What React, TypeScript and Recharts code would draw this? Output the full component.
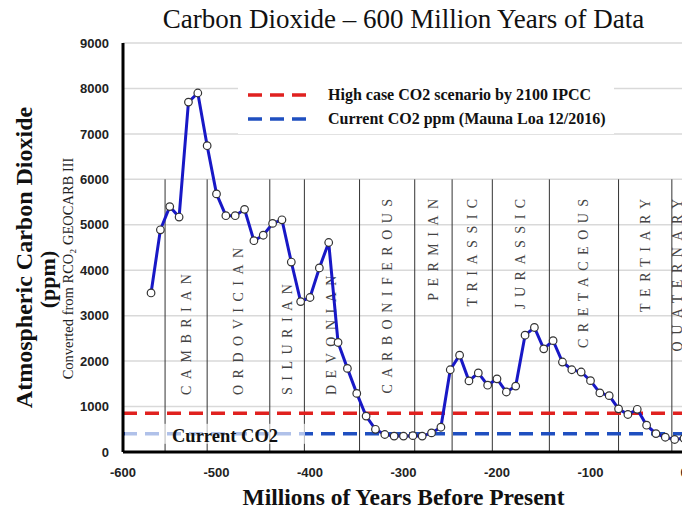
import React from 'react';
import {
  LineChart,
  Line,
  XAxis,
  YAxis,
  CartesianGrid,
  ReferenceLine,
  ReferenceArea,
  Legend,
  Label
} from 'recharts';

// GEOCARB III derived CO2 (ppm), every 10 Myr
const years = [
  -570, -560, -550, -540, -530, -520, -510, -500, -490, -480,
  -470, -460, -450, -440, -430, -420, -410, -400, -390, -380,
  -370, -360, -350, -340, -330, -320, -310, -300, -290, -280,
  -270, -260, -250, -240, -230, -220, -210, -200, -190, -180,
  -170, -160, -150, -140, -130, -120, -110, -100, -90, -80,
  -70, -60, -50, -40, -30, -20, -10, 0
];
const co2 = [
  3500, 4890, 5400, 5170, 7700, 7900, 6740, 5680, 5200, 5200,
  5340, 4650, 4770, 5030, 5110, 4180, 3310, 3400, 4050, 4610,
  2410, 1840, 1290, 790, 500, 385, 350, 350, 360, 350,
  420, 545, 1810, 2130, 1565, 1740, 1470, 1610, 1320, 1450,
  2570, 2740, 2270, 2450, 1980, 1810, 1760, 1570, 1300, 1240,
  950, 825, 940, 590, 405, 325, 275, 300
];

const periodNames = [
  'CAMBRIAN', 'ORDOVICIAN', 'SILURIAN', 'DEVONIAN', 'CARBONIFEROUS',
  'PERMIAN', 'TRIASSIC', 'JURASSIC', 'CRETACEOUS', 'TERTIARY', 'QUATERNARY'
];
const periodStarts = [-555, -510, -443, -406, -347, -288, -248, -205, -144, -70, -13];
const periodEnd = 0;
const periodTop = 6000;
const periodLabelAnchor = ['bottom', 'bottom', 'bottom', 'bottom', 'top', 'top', 'top', 'top', 'top', 'top', 'top'];

const highCaseCO2 = 850;
const currentCO2 = 400;

const xTicks = [-600, -500, -400, -300, -200, -100, 0];
const yTicks = [0, 1000, 2000, 3000, 4000, 5000, 6000, 7000, 8000, 9000];

const legendItems = [
  { label: 'High case CO2 scenario by 2100 IPCC', color: '#e0211f' },
  { label: 'Current CO2 ppm (Mauna Loa 12/2016)', color: '#1f4fc0' }
];

const chartData = years.map((year, i) => ({ year, co2: co2[i] }));

const SERIF = '"Liberation Serif", "DejaVu Serif", serif';
const SANS = '"Liberation Sans", Arial, sans-serif';

const LegendBox = () => (
  <div style={{ background: '#fff', padding: '5px 8px 3px', fontFamily: SERIF, fontWeight: 'bold', fontSize: 16, color: '#111' }}>
    {legendItems.map(item => (
      <div key={item.label} style={{ display: 'flex', alignItems: 'center', height: 24 }}>
        <svg width={58} height={6} style={{ marginLeft: 2 }}>
          <line x1={0} y1={3} x2={58} y2={3} stroke={item.color} strokeWidth={3.5} strokeDasharray="14 8" />
        </svg>
        <span style={{ marginLeft: 22, whiteSpace: 'nowrap' }}>{item.label}</span>
      </div>
    ))}
  </div>
);

const YTitle = (props: any) => {
  const { viewBox } = props;
  if (!viewBox) return null;
  const cy = viewBox.y + viewBox.height / 2;
  return (
    <g>
      <text x={24} y={cy + 10} transform={`rotate(-90 24 ${cy + 10})`} textAnchor="middle" dominantBaseline="central"
        fontFamily={SERIF} fontWeight="bold" fontSize={24} fill="#111">Atmospheric Carbon Dioxide</text>
      <text x={47} y={cy + 32} transform={`rotate(-90 47 ${cy + 32})`} textAnchor="middle" dominantBaseline="central"
        fontFamily={SERIF} fontWeight="bold" fontSize={22} fill="#111">(ppm)</text>
      <text x={68} y={cy + 21} transform={`rotate(-90 68 ${cy + 21})`} textAnchor="middle" dominantBaseline="central"
        fontFamily={SERIF} fontSize={14.5} fill="#222">Converted from RCO₂ GEOCARB III</text>
    </g>
  );
};

const XTitle = (props: any) => {
  const { viewBox } = props;
  if (!viewBox) return null;
  return (
    <text x={viewBox.x + viewBox.width / 2} y={viewBox.y + 53} textAnchor="middle"
      fontFamily={SERIF} fontWeight="bold" fontSize={23.5} fill="#111">Millions of Years Before Present</text>
  );
};

const CurrentLabel = (props: any) => {
  const { viewBox } = props;
  if (!viewBox) return null;
  return (
    <g>
      <rect x={viewBox.x + 2} y={viewBox.y - 10} width={180} height={20} fill="#fff" fillOpacity={0.65} />
      <text x={viewBox.x + 49} y={viewBox.y + 8} fontFamily={SERIF} fontWeight="bold" fontSize={18.5} fill="#111">Current CO2</text>
    </g>
  );
};

const periodLabel = (name: string, anchor: string) => (props: any) => {
  const { viewBox } = props;
  if (!viewBox) return null;
  const cx = viewBox.x + viewBox.width / 2;
  const y = anchor === 'top' ? viewBox.y + 13 : viewBox.y + viewBox.height - 57;
  return (
    <text x={cx} y={y} transform={`rotate(-90 ${cx} ${y})`} textAnchor={anchor === 'top' ? 'end' : 'start'}
      dominantBaseline="central" fontFamily={SERIF} fontSize={14} letterSpacing={6.5} fill="#444">{name}</text>
  );
};

export default function App() {
  return (
    <div style={{ position: 'absolute', left: 0, top: 0, width: 682, height: 511, overflow: 'hidden', background: '#fff' }}>
      <div style={{ position: 'absolute', left: 123, top: 4, width: 561, textAlign: 'center', fontFamily: SERIF, fontSize: 27, color: '#111', whiteSpace: 'nowrap' }}>
        Carbon Dioxide – 600 Million Years of Data
      </div>
      <LineChart width={700} height={511} data={chartData} margin={{ top: 43, right: 16, left: 73, bottom: 28 }}>
        <CartesianGrid horizontal vertical={false} stroke="#d9d9d9" strokeWidth={1.5} />
        <XAxis
          dataKey="year"
          type="number"
          domain={[-600, 0]}
          ticks={xTicks}
          tickLine={false}
          tickSize={0}
          tickMargin={16}
          height={31}
          axisLine={{ stroke: '#000', strokeWidth: 3 }}
          tick={{ fill: '#222', fontSize: 13, fontWeight: 'bold', fontFamily: SANS }}
          interval={0}
        >
          <Label content={XTitle} />
        </XAxis>
        <XAxis xAxisId="top" orientation="top" type="number" domain={[-600, 0]} height={0} tick={false} tickLine={false}
          axisLine={{ stroke: '#000', strokeWidth: 3 }} />
        <YAxis
          type="number"
          domain={[0, 9000]}
          ticks={yTicks}
          width={50}
          tickLine={false}
          tickSize={0}
          tickMargin={14}
          axisLine={{ stroke: '#000', strokeWidth: 3 }}
          tick={{ fill: '#222', fontSize: 13, fontWeight: 'bold', fontFamily: SANS }}
          interval={0}
        >
          <Label content={YTitle} />
        </YAxis>
        <Legend
          layout="horizontal"
          verticalAlign="middle"
          align="center"
          content={LegendBox}
          wrapperStyle={{ top: 78, left: 238, width: 'auto' }}
        />
        {periodNames.map((name, i) => (
          <ReferenceArea
            key={`area-${name}`}
            x1={periodStarts[i]}
            x2={i + 1 < periodStarts.length ? periodStarts[i + 1] : periodEnd}
            y1={0}
            y2={periodTop}
            fillOpacity={0}
            strokeOpacity={0}
            label={periodLabel(name, periodLabelAnchor[i])}
          />
        ))}
        {periodStarts.map(start => (
          <ReferenceLine
            key={`line-${start}`}
            segment={[{ x: start, y: 0 }, { x: start, y: periodTop }]}
            stroke="#333"
            strokeWidth={1}
          />
        ))}
        <ReferenceLine y={highCaseCO2} stroke="#e0211f" strokeWidth={3.5} strokeDasharray="14 8" />
        <ReferenceLine y={currentCO2} stroke="#1f4fc0" strokeWidth={3.5} strokeDasharray="14 8" label={CurrentLabel} />
        <Line
          dataKey="co2"
          type="linear"
          stroke="#1818c6"
          strokeWidth={3}
          dot={{ r: 3.8, fill: '#fff', stroke: '#333', strokeWidth: 1.2 }}
          activeDot={false}
          isAnimationActive={false}
        />
      </LineChart>
    </div>
  );
}
